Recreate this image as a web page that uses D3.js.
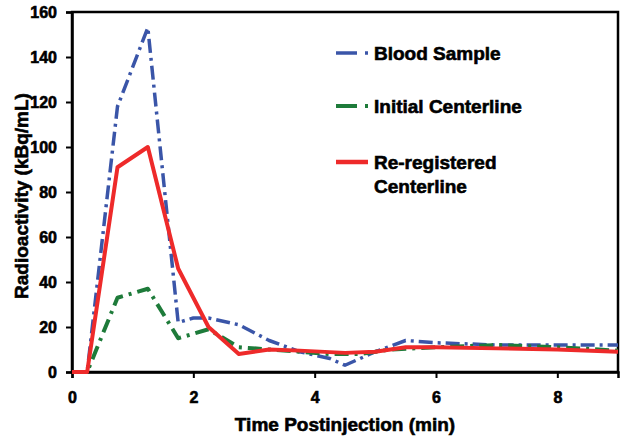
<!DOCTYPE html>
<html><head><meta charset="utf-8">
<script src="https://cdn.jsdelivr.net/npm/d3@7"></script>
<style>body{margin:0;background:#fff}text{font-family:"Liberation Sans",Arial,sans-serif;font-weight:bold;fill:#000;stroke:#000;stroke-width:0.6px}</style>
</head><body><svg id="c" width="624" height="439"></svg>
<script>
const xTicks = [0,2,4,6,8];
const yTicks = [0,20,40,60,80,100,120,140,160];
const bloodT = [0,0.25,0.75,1.25,1.75,2.0,2.25,2.75,3.25,3.75,4.25,4.5,5.0,5.5,6.0,7.0,8.0,9.0];
const bloodV = [0,0,118,153,22,24,24,21,14,9,6,3,9,14,13,12,12,12];
const initT = [0,0.25,0.75,1.25,1.75,2.25,2.75,3.25,3.75,4.25,4.75,5.25,6.0,7.0,8.0,9.0];
const initV = [0,0,33,37,15,19,11,10,9,8,8,10,11,12,11,9.5];
const reregT = [0,0.25,0.75,1.25,1.75,2.25,2.75,3.25,3.75,4.5,5.0,5.5,6.0,7.0,8.0,9.0];
const reregV = [0,0,91,100,46,20,8,10,9.5,8.5,9,11,11,10.5,10,9];
const seriesNames = ["Blood Sample","Initial Centerline","Re-registered Centerline"];

const svg = d3.select("#c");
const L=72, R=618, T=12, B=372;
const x = d3.scaleLinear().domain([0,9]).range([L,R]);
const y = d3.scaleLinear().domain([0,160]).range([B,T]);

svg.append("rect").attr("x",L).attr("y",T).attr("width",R-L).attr("height",B-T)
  .attr("fill","none").attr("stroke","#000").attr("stroke-width",2.5);

const xa = svg.append("g").attr("transform",`translate(0,${B})`)
  .call(d3.axisBottom(x).tickValues(xTicks).tickSize(6).tickPadding(14).tickFormat(d3.format("d")));
const ya = svg.append("g").attr("transform",`translate(${L},0)`)
  .call(d3.axisLeft(y).tickValues(yTicks).tickSize(6).tickPadding(9).tickFormat(d3.format("d")));
[xa,ya].forEach(a=>{
  a.select(".domain").attr("stroke","#000").attr("stroke-width",2.5);
  a.selectAll(".tick line").attr("stroke","#000").attr("stroke-width",2);
  a.selectAll("text").style("font-size","16px").style("font-family","'Liberation Sans',Arial,sans-serif").style("font-weight","bold").attr("fill","#000");
});

const line = d3.line().x(d=>x(d[0])).y(d=>y(d[1]));
const series = [
  {t:bloodT,v:bloodV,c:"#3a55a8",w:3.5,dash:"14,5,3,5"},
  {t:initT,v:initV,c:"#1e7b3a",w:4,dash:"14,6,3,6"},
  {t:reregT,v:reregV,c:"#ee2a2a",w:4,dash:null}
];
series.forEach(s=>{
  svg.append("path").datum(s.t.map((t,i)=>[t,s.v[i]]))
    .attr("d",line).attr("fill","none").attr("stroke",s.c).attr("stroke-width",s.w)
    .attr("stroke-linejoin","round").attr("stroke-dasharray",s.dash);
});

const leg = [
  {y:53, lines:["Blood Sample"]},
  {y:106, lines:["Initial Centerline"]},
  {y:162, lines:["Re-registered","Centerline"]}
];
leg.forEach((l,i)=>{
  const s=series[i];
  if(s.dash){
    svg.append("line").attr("x1",336).attr("x2",357).attr("y1",l.y).attr("y2",l.y).attr("stroke",s.c).attr("stroke-width",s.w);
    svg.append("line").attr("x1",365).attr("x2",368).attr("y1",l.y).attr("y2",l.y).attr("stroke",s.c).attr("stroke-width",s.w);
  } else {
    svg.append("line").attr("x1",336).attr("x2",368).attr("y1",l.y).attr("y2",l.y).attr("stroke",s.c).attr("stroke-width",s.w+0.5);
  }
  l.lines.forEach((txt,j)=>{
    svg.append("text").attr("x",374).attr("y",l.y+7+j*24).style("font-size","19px").text(txt);
  });
});

svg.append("text").attr("x",(L+R)/2).attr("y",431).attr("text-anchor","middle").style("font-size","19px").text("Time Postinjection (min)");
svg.append("text").attr("transform","translate(28,196) rotate(-90)").attr("text-anchor","middle").style("font-size","19px").text("Radioactivity (kBq/mL)");
</script></body></html>
